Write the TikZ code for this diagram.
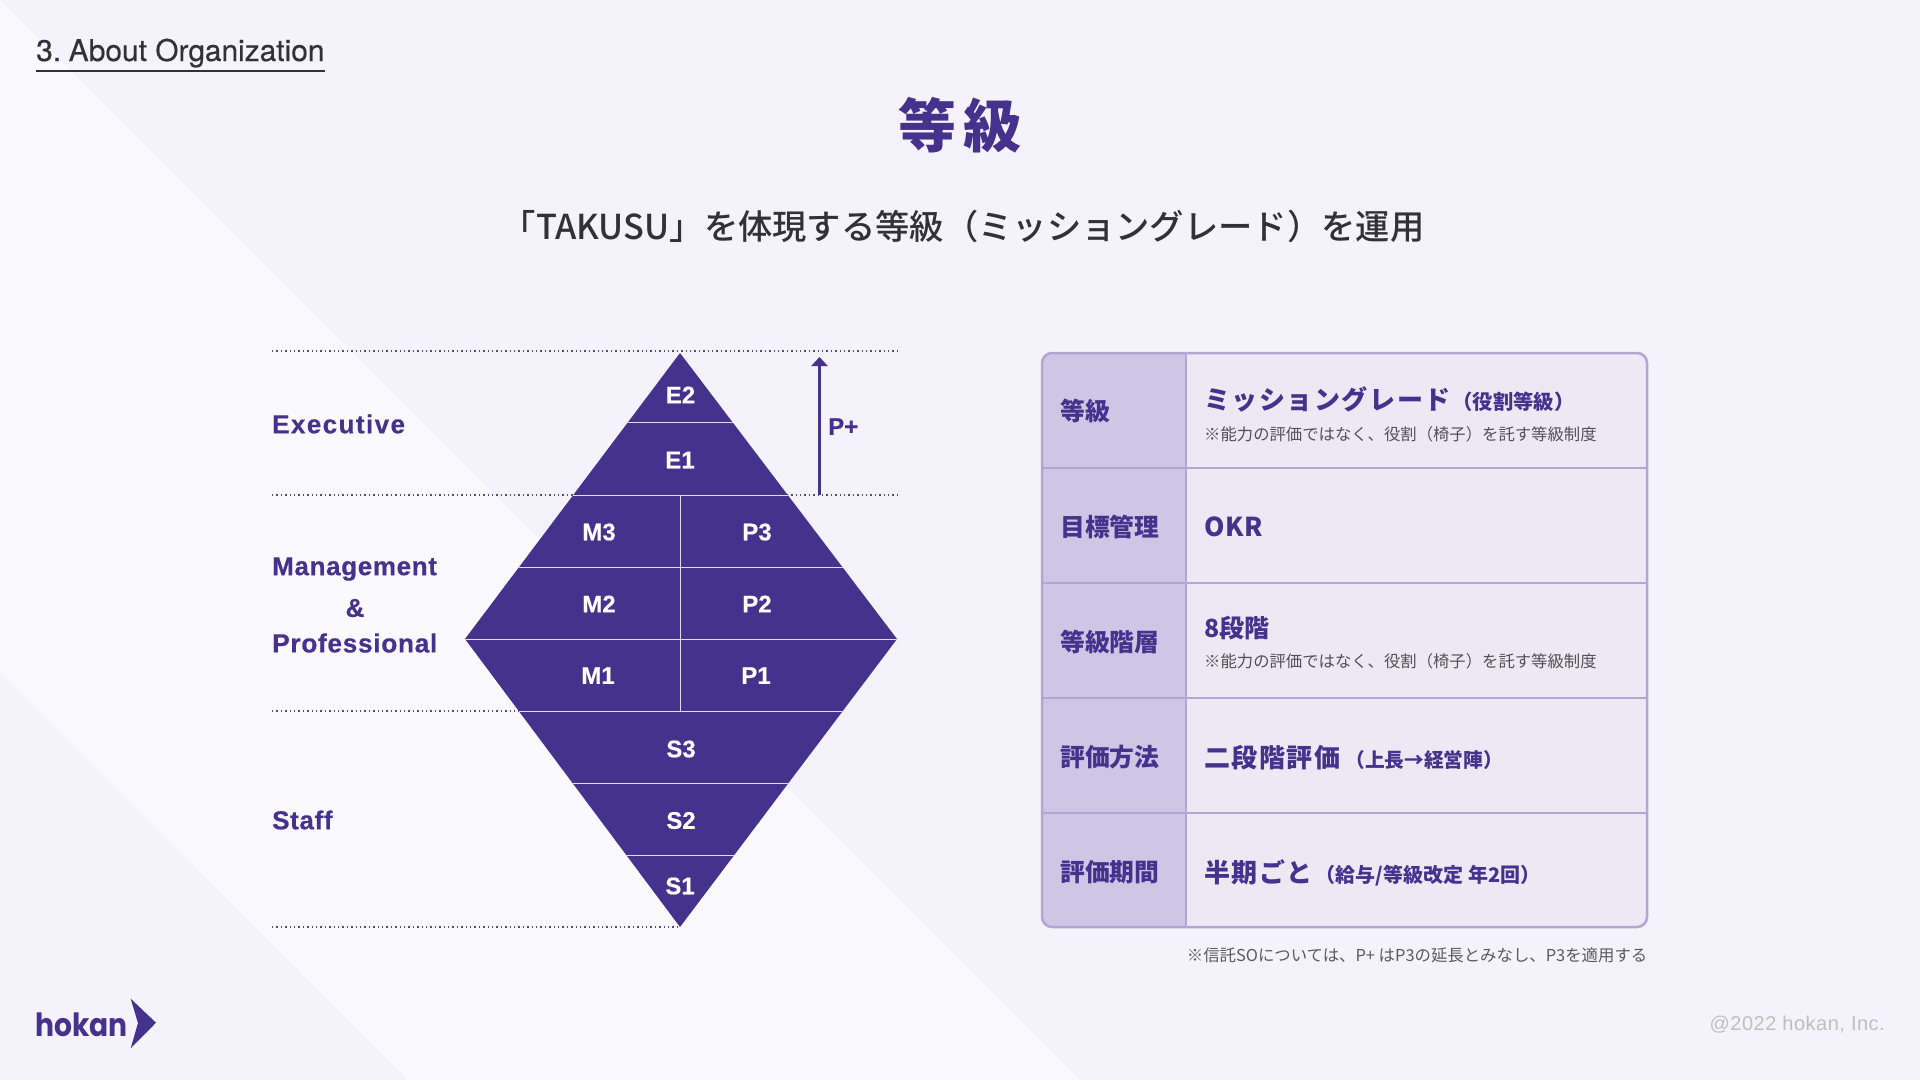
\documentclass[tikz,border=0pt]{standalone}
\usepackage{fontspec}
\usetikzlibrary{arrows.meta}
\setmainfont{Liberation Sans}
\newfontfamily\cjk{Noto Sans CJK JP}
\newfontfamily\cjkmed{Noto Sans CJK JP Medium}
\newfontfamily\cjkm[LetterSpace=6]{Noto Sans CJK JP}
\newfontfamily\cjks[LetterSpace=2]{Noto Sans CJK JP}
\newfontfamily\latb[FakeBold=0.4]{Liberation Sans Bold}
\newfontfamily\latw[LetterSpace=2.5,FakeBold=0.4]{Liberation Sans Bold}
\newfontfamily\latx[LetterSpace=5.5,FakeBold=0.4]{Liberation Sans Bold}
\newfontfamily\latc[LetterSpace=2.5]{Liberation Sans}
\newfontfamily\heros[FakeBold=0.35]{TeX Gyre Heros}
\newfontfamily\logof{Poppins}
\newcommand{\fsz}[1]{\fontsize{#1}{#1}\selectfont}
\definecolor{pur}{HTML}{43338C}
\definecolor{bga}{HTML}{F4F2FA}
\definecolor{bgb}{HTML}{FAF9FE}
\definecolor{cola}{HTML}{CFC6E6}
\definecolor{colb}{HTML}{ECE9F5}
\definecolor{bord}{HTML}{B0A8D3}
\definecolor{ink}{HTML}{333138}
\tikzset{
  lvl/.style={anchor=west,inner sep=0,text=pur,font=\latw\fsz{26}},
  cell/.style={inner sep=0,text=white,font=\latb\fsz{24}},
  hdr/.style={anchor=west,inner sep=0,text=pur,font=\cjk\bfseries\fsz{24.8}},
  main/.style={anchor=west,inner sep=0,text=pur,font=\cjkm\bfseries\fsz{26}},
  note/.style={anchor=west,inner sep=0,text=ink!85,font=\cjk\fsz{16.35}},
  dots/.style={draw=pur!70!gray,line width=1.2pt,dash pattern=on 1.4pt off 3pt},
  sep/.style={draw=bgb!85!pur,line width=1pt},
  rule/.style={draw=bord,line width=2.5pt}
}
\begin{document}
\begin{tikzpicture}[x=1pt,y=-1pt]
\useasboundingbox (0,0) rectangle (1920,1080);
\fill[bga] (0,0) rectangle (1920,1080);
\fill[bgb] (0,0) -- (1080,1080) -- (408,1080) -- (0,671) -- cycle;
% header
\node[anchor=base west,inner sep=0,text=ink,font=\heros\fsz{29.9}] (head) at (36,61) {3.\hspace{-3.5pt} About Organization};
\draw[ink,line width=1.3pt] (36,71) -- (325,71);
\node[inner sep=0,text=pur,font=\cjk\bfseries\fsz{58}] (title) at (960,125) {等\hspace{7pt}級};
\node[inner sep=0,text=ink,font=\cjkmed\fsz{34.3}] (sub) at (963,226) {「TAKUSU」を体現する等級（ミッショングレード）を運用};
% dotted guides
\coordinate (dl1) at (272,351); \coordinate (dr1) at (897,351);
\coordinate (dl2) at (272,495); \coordinate (dr2) at (897,495);
\coordinate (dl3) at (272,711); \coordinate (dr3) at (522,711);
\coordinate (dl4) at (272,927); \coordinate (dr4) at (680,927);
\draw[dots] (dl1) -- (dr1);
\draw[dots] (dl2) -- (dr2);
\draw[dots] (dl3) -- (dr3);
\draw[dots] (dl4) -- (dr4);
% diamond
\begin{scope}
\clip (680,353) -- (897,639) -- (680,927) -- (465,639) -- cycle;
\fill[pur] (460,350) rectangle (900,930);
\draw[sep] (460,422.5) -- (900,422.5);
\draw[sep] (460,495) -- (900,495);
\draw[sep] (460,567) -- (900,567);
\draw[sep] (460,639) -- (900,639);
\draw[sep] (460,711) -- (900,711);
\draw[sep] (460,783) -- (900,783);
\draw[sep] (460,855) -- (900,855);
\draw[sep] (680,495) -- (680,711);
\end{scope}
\node[cell] (e2) at (680.5,395) {E2};
\node[cell] (e1) at (680,460) {E1};
\node[cell] (m3) at (599,532) {M3};
\node[cell] (p3) at (757,532) {P3};
\node[cell] (m2) at (599,604) {M2};
\node[cell] (p2) at (757,604) {P2};
\node[cell] (m1) at (598,675.5) {M1};
\node[cell] (p1) at (756,675.5) {P1};
\node[cell] (s3) at (681,749) {S3};
\node[cell] (s2) at (681,820.5) {S2};
\node[cell] (s1) at (680,886) {S1};
% P+ arrow
\coordinate (pa) at (819.5,495); \coordinate (pb) at (819.5,357);
\draw[pur,line width=2.2pt,-{Triangle[length=9pt,width=16pt]}] (pa) -- (pb);
\node[anchor=west,inner sep=0,text=pur,font=\latb\fsz{24}] (pplus) at (828,426.5) {P+};
% level labels
\node[lvl,font=\latx\fsz{26}] (ex) at (272,424) {Executive};
\node[lvl] (mg) at (272,569) {Management};
\node[inner sep=0,text=pur,font=\latb\fsz{26}] (amp) at (355,608) {\&};
\node[lvl,font=\latw\fsz{26.3}] (pr) at (272,643) {Professional};
\node[lvl] (st) at (272,820) {Staff};
% table
\begin{scope}
\clip[rounded corners=10pt] (1042,353) rectangle (1647,927);
\fill[colb] (1042,353) rectangle (1647,927);
\fill[cola] (1042,353) rectangle (1186,927);
\draw[rule] (1042,468) -- (1647,468);
\draw[rule] (1042,583) -- (1647,583);
\draw[rule] (1042,698) -- (1647,698);
\draw[rule] (1042,813) -- (1647,813);
\draw[rule] (1186,353) -- (1186,927);
\end{scope}
\draw[rule,rounded corners=10pt] (1042,353) rectangle (1647,927);
\node[hdr] (h1) at (1060,411) {等級};
\node[hdr] (h2) at (1060,527) {目標管理};
\node[hdr] (h3) at (1060,642) {等級階層};
\node[hdr] (h4) at (1060,757) {評価方法};
\node[hdr] (h5) at (1060,872) {評価期間};
\node[main] (c1) at (1204,399) {ミッショングレード\hspace{2pt}{\cjk\fsz{20.3}（役割等級）}};
\node[note] (n1) at (1204,434) {※能力の評価ではなく、役割（椅子）を託す等級制度};
\node[main,font=\cjks\bfseries\fsz{26}] (c2) at (1204,527) {OKR};
\node[main,font=\cjk\bfseries\fsz{25}] (c3) at (1204,628) {8段階};
\node[note] (n3) at (1204,661) {※能力の評価ではなく、役割（椅子）を託す等級制度};
\node[main] (c4) at (1204,758) {二段階評価\hspace{5pt}{\cjk\fsz{19.7}（上長→経営陣）}};
\node[main] (c5) at (1204,873) {半期ごと\hspace{3pt}{\cjk\fsz{20}（給与/等級改定 年2回）}};
\node[anchor=east,inner sep=0,text=ink!80,font=\cjk\fsz{16.4}] (foot) at (1647.5,955) {※信託SOについては、P+ はP3の延長とみなし、P3を適用する};
% footer
\node[anchor=east,inner sep=0,text=black!25,font=\latc\fsz{20}] (copy) at (1885,1025) {@2022 hokan, Inc.};
\node[anchor=base west,inner sep=0,text=pur,font=\logof\bfseries\fsz{32}] (logo) at (35,1036) {\scalebox{0.88}[1]{hokan}};
\fill[pur] (130.7,998.7) -- (156,1022.7) -- (130.7,1048.3) -- (138,1023) -- cycle;
\end{tikzpicture}
\end{document}
